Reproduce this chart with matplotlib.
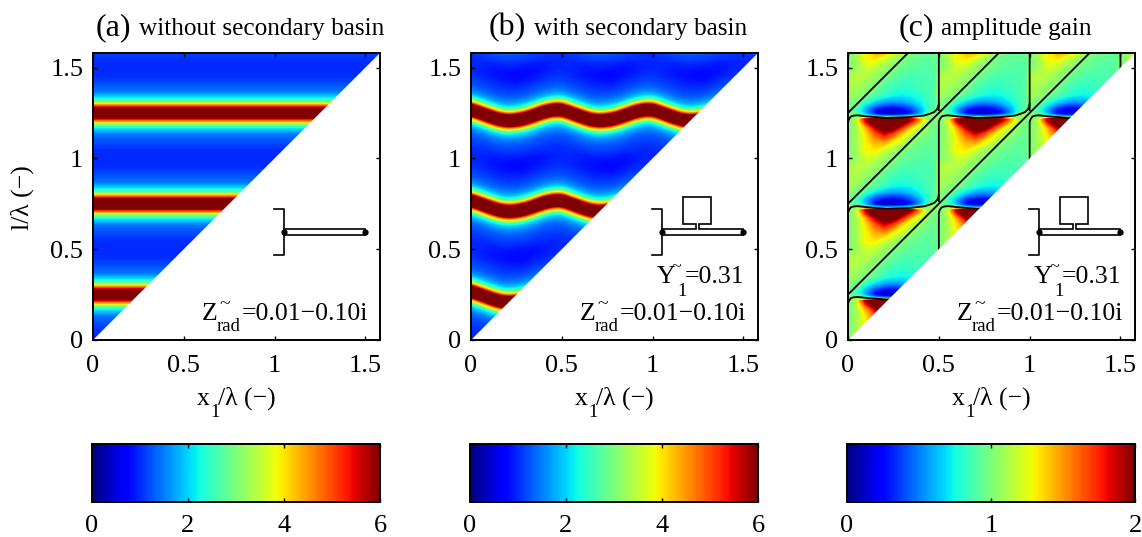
import numpy as np
import matplotlib
matplotlib.use('Agg')
import matplotlib.pyplot as plt
from matplotlib.cm import ScalarMappable
from matplotlib.colors import Normalize

plt.rcParams['font.family'] = ['Liberation Serif', 'DejaVu Serif']

ticks = [0, 0.5, 1, 1.5]
tick_labels = ['0', '0.5', '1', '1.5']
cb_ticks_amp = [0, 2, 4, 6]
cb_ticks_gain = [0, 1, 2]

# (a) amplitude depends on l/lambda only
a_x = [0.0, 0.25]
a_y = [0, .05, .09, .133, .164, .188, .197, .21, .222, .25, .278, .29, .303, .312, .336, .367, .41, .45]
a_amp = [.97, 1.02, 1.2, 1.45, 2.1, 3.0, 3.9, 5.0, 6.0, 8.0, 6.0, 5.0, 3.9, 3.0, 2.1, 1.45, 1.2, 1.02]

# (b) rows are l/lambda, columns x1/lambda
b_x = [0, .05, .1, .15, .2, .25, .3, .35, .4, .45]
b_y = [0, .025, .05, .075, .1, .125, .15, .175, .2, .225, .25, .275, .3, .325, .35, .375, .4, .425, .45, .475]
b_amp = [
    [.97, .95, .90, .88, .90, .86, .84, .82, .88, .95],
    [.96, .98, .95, .98, 1.05, 1.0, .98, .90, .92, .94],
    [.99, 1.02, 1.05, 1.13, 1.16, 1.14, 1.1, 1.03, 1.0, .98],
    [1.04, 1.1, 1.17, 1.25, 1.3, 1.27, 1.22, 1.15, 1.08, 1.04],
    [1.13, 1.2, 1.3, 1.45, 1.53, 1.5, 1.4, 1.27, 1.18, 1.13],
    [1.24, 1.35, 1.52, 1.8, 1.98, 1.88, 1.7, 1.48, 1.3, 1.24],
    [1.4, 1.6, 1.98, 2.45, 2.95, 2.7, 2.25, 1.86, 1.55, 1.43],
    [1.72, 2.15, 2.9, 4.7, 6.0, 5.4, 4.1, 2.6, 2.02, 1.75],
    [2.35, 3.4, 5.9, 8.6, 9.7, 9.4, 7.8, 5.1, 3.0, 2.35],
    [4.2, 7.0, 9.6, 9.4, 8.0, 8.6, 9.8, 9.1, 6.2, 4.4],
    [8.0, 10.0, 8.1, 5.4, 4.2, 4.7, 6.2, 8.9, 9.8, 8.3],
    [9.5, 7.0, 4.35, 2.7, 2.3, 2.45, 3.0, 5.0, 7.8, 9.5],
    [5.9, 3.4, 2.3, 1.88, 1.72, 1.8, 2.02, 2.55, 4.1, 5.7],
    [3.0, 2.15, 1.75, 1.5, 1.4, 1.45, 1.55, 1.82, 2.25, 2.85],
    [1.95, 1.6, 1.42, 1.25, 1.22, 1.22, 1.3, 1.46, 1.7, 1.9],
    [1.53, 1.35, 1.23, 1.12, 1.08, 1.07, 1.13, 1.26, 1.4, 1.52],
    [1.3, 1.2, 1.12, 1.02, .98, .96, 1.0, 1.14, 1.22, 1.28],
    [1.17, 1.1, 1.02, .92, .87, .84, .87, 1.0, 1.1, 1.16],
    [1.08, 1.0, .92, .85, .80, .78, .80, .88, .98, 1.07],
    [1.01, .95, .88, .85, .82, .80, .80, .84, .90, .98],
]

# (c) gain, rows and columns bunched where it changes quickly
c_x = [0, .02, .05, .1, .15, .2, .25, .3, .35, .4, .45, .48]
c_y = [0, .05, .1, .14, .17, .2, .215, .23, .245, .26, .28, .31, .35, .4, .45]
c_gain = [
    [1.0, 1.02, 1.07, 1.2, 1.15, 1.06, 1.0, .95, .92, .9, .9, .92],
    [1.0, 1.03, 1.1, 1.3, 1.33, 1.2, 1.1, 1.0, .95, .93, .92, .93],
    [1.0, 1.03, 1.1, 1.3, 1.48, 1.55, 1.35, 1.2, 1.05, .97, .94, .94],
    [1.0, 1.03, 1.1, 1.35, 1.65, 1.88, 1.7, 1.38, 1.18, 1.05, .97, .96],
    [1.0, 1.03, 1.12, 1.45, 1.88, 2.2, 2.1, 1.72, 1.35, 1.12, 1.0, .97],
    [1.0, 1.02, 1.15, 1.8, 2.25, 2.4, 2.3, 2.1, 1.75, 1.35, 1.0, 1.0],
    [1.0, 1.05, 1.2, 1.95, 2.4, 2.5, 2.45, 2.25, 1.95, 1.45, 1.0, .98],
    [1.0, 1.0, .95, .9, .7, .6, .6, .65, .75, .85, 1.05, 1.1],
    [1.0, .98, .9, .6, .3, .15, .12, .18, .35, .6, .95, 1.05],
    [.98, .95, .85, .55, .25, .12, .1, .15, .3, .55, .85, .95],
    [1.0, .95, .85, .6, .38, .28, .25, .3, .42, .62, .85, .92],
    [1.03, 1.0, .98, .8, .65, .55, .52, .55, .62, .72, .85, .9],
    [1.1, 1.08, 1.05, 1.0, .9, .82, .75, .73, .75, .8, .87, .9],
    [1.12, 1.12, 1.1, 1.05, 1.0, .9, .84, .82, .83, .85, .88, .9],
    [1.1, 1.13, 1.15, 1.12, 1.05, 1.0, .93, .88, .86, .87, .88, .9],
]

# gain = 1 contour, one step of the staircase
stair_x = [0, 0, .005, .015, .03, .05, .12, .21, .34, .42, .45, .475, .49, .497, .5]
stair_y = [-.235, .2, .215, .23, .235, .237, .23, .223, .227, .236, .245, .255, .27, .285, .3]
diag_offsets = [.25, .75, 1.25]

# inset sketches
bracket_x = [.997, 1.052, 1.052, .997]
bracket_y = [.721, .721, .468, .468]
pipe_x = [1.05, 1.5, 1.5, 1.05]
pipe_y = [.611, .611, .578, .578]
basin_x = [1.05, 1.24, 1.24, 1.167, 1.167, 1.322, 1.322, 1.255, 1.255, 1.5, 1.5, 1.05]
basin_y = [.611, .611, .639, .639, .787, .787, .639, .639, .611, .611, .578, .578]
dots_x = [1.05, 1.5]
dots_y = [.595, .595]

W, H = 1142, 537
LIM = 1.58
FS = 18.5
SUB = 13.5


def tile(xt, yt, zt):
    # repeat one 0.5 x 0.5 cell over the whole square
    x = np.concatenate([np.array(xt) + k * 0.5 for k in range(4)])
    y = np.concatenate([np.array(yt) + k * 0.5 for k in range(4)])
    return x, y, np.tile(np.array(zt), (4, 4))


def txt(px, py, s, size=FS, **kw):
    return fig.text(px / W, 1 - py / H, s, fontsize=size, **kw)


fig = plt.figure(figsize=(W / 100, H / 100), dpi=100)

lefts = [93, 471, 848]
maps = [
    (tile(a_x, a_y, np.column_stack([a_amp, a_amp])), 6),
    (tile(b_x, b_y, b_amp), 6),
    (tile(c_x, c_y, c_gain), 2),
]

for i, left in enumerate(lefts):
    ax = fig.add_axes([left / W, (H - 340) / H, 287 / W, 287 / H])
    (x, y, z), top = maps[i]
    if i == 1:
        # regular grid, bicubic keeps the ridge from looking faceted
        ax.imshow(z, origin='lower', aspect='auto', cmap='jet', vmin=0, vmax=top,
                  interpolation='bicubic', interpolation_stage='data', zorder=1,
                  extent=[x[0] - .025, x[-1] + .025, y[0] - .0125, y[-1] + .0125])
    else:
        ax.contourf(x, y, z, levels=np.linspace(0, top, 193), cmap='jet', extend='both', zorder=1)

    if i == 2:
        for d in diag_offsets:
            ax.plot([0, 2], [d, d + 2], color='k', lw=1.3, zorder=2)
        for m in range(4):
            for n in range(4):
                ax.plot(np.array(stair_x) + m * .5, np.array(stair_y) + n * .5,
                        color='k', lw=1.3, zorder=2)

    # blank the part of the map below x1 = l
    ax.fill([0, LIM, LIM], [0, 0, LIM], color='white', lw=0, zorder=2.2)

    ax.plot(bracket_x, bracket_y, color='k', lw=1.2, zorder=3)
    if i == 0:
        ax.fill(pipe_x, pipe_y, fc='white', ec='k', lw=1.2, zorder=3)
    else:
        ax.fill(basin_x, basin_y, fc='none', ec='k', lw=1.2, zorder=3)
    ax.plot(dots_x, dots_y, 'o', color='k', ms=3.5, zorder=4)

    ax.set_xlim(0, LIM)
    ax.set_ylim(0, LIM)
    ax.set_xticks(ticks)
    ax.set_yticks(ticks)
    ax.set_xticklabels(tick_labels)
    ax.set_yticklabels(tick_labels)
    ax.set_axisbelow(False)
    ax.tick_params(direction='in', top=True, right=True, length=3, width=1, labelsize=FS + .5)
    ax.tick_params(axis='x', pad=11)
    ax.tick_params(axis='y', pad=7)
    for s in ax.spines.values():
        s.set_linewidth(1.4)

    # x label, subscript set by hand because it hangs low
    dx = left - 93
    txt(197 + dx, 405, 'x', va='baseline')
    txt(210 + dx, 417, '1', size=SUB, va='baseline')
    txt(218 + dx, 405, '/λ (−)', va='baseline')

    # radiation impedance label
    txt(202 + dx, 320, 'Z', va='baseline')
    txt(219 + dx, 309, '~', size=14, va='baseline')
    txt(217 + dx, 331, 'rad', size=SUB, va='baseline')
    txt(242 + dx, 320, '=0.01−0.10i', va='baseline')
    if i > 0:
        txt(279 + dx, 283, 'Y', va='baseline')
        txt(294 + dx, 272, '~', size=13, va='baseline')
        txt(299 + dx, 296, '1', size=SUB, va='baseline')
        txt(307 + dx, 283, '=0.31', va='baseline')

    cax = fig.add_axes([(left - 1) / W, (H - 502) / H, 288 / W, 58 / H])
    sm = ScalarMappable(Normalize(0, top), 'jet')
    cb = fig.colorbar(sm, cax=cax, orientation='horizontal')
    cb.set_ticks(cb_ticks_gain if i == 2 else cb_ticks_amp)
    cax.tick_params(direction='in', top=True, bottom=True, length=3, width=1, labelsize=FS + .5, pad=9)
    cb.outline.set_linewidth(1.4)

# titles, panel letter a bit larger than the rest
txt(96, 35, '(a)', size=23, va='baseline')
txt(139, 35, 'without secondary basin', size=18.2, va='baseline')
txt(489, 35, '(b)', size=23, va='baseline')
txt(534, 35, 'with secondary basin', size=18.2, va='baseline')
txt(899, 35, '(c)', size=23, va='baseline')
txt(941, 35, 'amplitude gain', size=18.2, va='baseline')

txt(22, 198, 'l/λ (−)', rotation=90, ha='center', va='center')

fig.savefig('out.png', dpi=100)
